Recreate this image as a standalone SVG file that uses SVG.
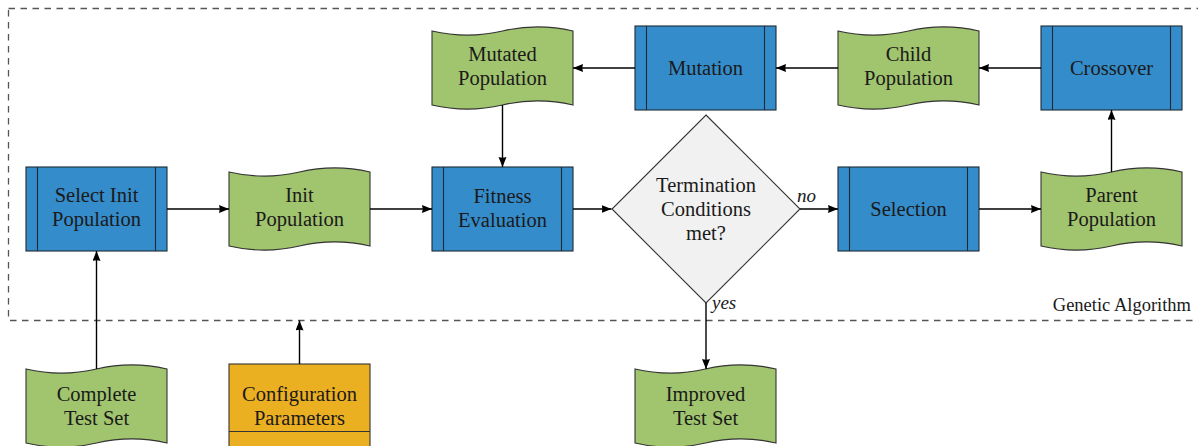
<svg xmlns="http://www.w3.org/2000/svg" width="1198" height="446" viewBox="0 0 1198 446">
<defs>
<style>
.proc{fill:#358cca;stroke:#1e2a33;stroke-width:1.1}
.bar{stroke:#1e2a33;stroke-width:1.1;fill:none}
.tape{fill:#a1c46e;stroke:#333;stroke-width:1.1}
.cfg{fill:#ebaf22;stroke:#333;stroke-width:1.1}
.dec{fill:#f1f1f1;stroke:#333;stroke-width:1.1}
.t{font-size:20.5px;fill:#1a1a1a;text-anchor:middle}
.lbl{font-size:19px;fill:#1a1a1a;font-style:italic}
.grp{font-size:18.5px;fill:#1a1a1a;text-anchor:end}
.conn{stroke:#000;stroke-width:1.4;fill:none;marker-end:url(#arr)}
</style>
<marker id="arr" markerUnits="userSpaceOnUse" markerWidth="11" markerHeight="9" refX="10" refY="4" orient="auto">
<path d="M0,0 L10,4 L0,8 Q1.5,4 0,0 Z" fill="#000"/>
</marker>
</defs>

<g font-family="'Liberation Serif', Tinos, 'Times New Roman', 'DejaVu Serif', serif">
<rect x="8.5" y="8.5" width="1300" height="312" fill="none" stroke="#555" stroke-width="1.3" stroke-dasharray="6.5 5.5"/>
<text class="grp" x="1191" y="311">Genetic Algorithm</text>

<g id="select-init">
<rect class="proc" x="26" y="167" width="141" height="84"/>
<path class="bar" d="M37.5,167 V251 M155.5,167 V251"/>
<text class="t" x="96.5" y="202">Select Init</text>
<text class="t" x="96.5" y="226">Population</text>
</g>

<g id="init-population">
<path class="tape" d="M229,172 C252.5,177.5 276,177.5 299.5,172 C323,166.5 346.5,166.5 370,172 L370,246 C346.5,240.5 323,240.5 299.5,246 C276,251.5 252.5,251.5 229,246 Z"/>
<text class="t" x="299.5" y="202">Init</text>
<text class="t" x="299.5" y="226">Population</text>
</g>

<g id="fitness">
<rect class="proc" x="432" y="167" width="141" height="84"/>
<path class="bar" d="M443.5,167 V251 M561.5,167 V251"/>
<text class="t" x="502.5" y="203">Fitness</text>
<text class="t" x="502.5" y="227">Evaluation</text>
</g>

<g id="termination">
<path class="dec" d="M706,115 L800,209 L706,303 L612,209 Z"/>
<text class="t" x="706" y="192">Termination</text>
<text class="t" x="706" y="216">Conditions</text>
<text class="t" x="706" y="240">met?</text>
</g>

<g id="selection">
<rect class="proc" x="838" y="167" width="141" height="84"/>
<path class="bar" d="M849.5,167 V251 M967.5,167 V251"/>
<text class="t" x="908.5" y="216">Selection</text>
</g>

<g id="parent-population">
<path class="tape" d="M1041,172 C1064.5,177.5 1088,177.5 1111.5,172 C1135,166.5 1158.5,166.5 1182,172 L1182,246 C1158.5,240.5 1135,240.5 1111.5,246 C1088,251.5 1064.5,251.5 1041,246 Z"/>
<text class="t" x="1111.5" y="202">Parent</text>
<text class="t" x="1111.5" y="226">Population</text>
</g>

<g id="crossover">
<rect class="proc" x="1041" y="26" width="141" height="84"/>
<path class="bar" d="M1052.5,26 V110 M1170.5,26 V110"/>
<text class="t" x="1111.5" y="75">Crossover</text>
</g>

<g id="child-population">
<path class="tape" d="M838,31 C861.5,36.5 885,36.5 908.5,31 C932,25.5 955.5,25.5 979,31 L979,105 C955.5,99.5 932,99.5 908.5,105 C885,110.5 861.5,110.5 838,105 Z"/>
<text class="t" x="908.5" y="61">Child</text>
<text class="t" x="908.5" y="85">Population</text>
</g>

<g id="mutation">
<rect class="proc" x="635" y="26" width="141" height="84"/>
<path class="bar" d="M646.5,26 V110 M764.5,26 V110"/>
<text class="t" x="705.5" y="75">Mutation</text>
</g>

<g id="mutated-population">
<path class="tape" d="M432,31 C455.5,36.5 479,36.5 502.5,31 C526,25.5 549.5,25.5 573,31 L573,105 C549.5,99.5 526,99.5 502.5,105 C479,110.5 455.5,110.5 432,105 Z"/>
<text class="t" x="502.5" y="61">Mutated</text>
<text class="t" x="502.5" y="85">Population</text>
</g>

<g id="complete-test-set">
<path class="tape" d="M26,369 C49.5,374.5 73,374.5 96.5,369 C120,363.5 143.5,363.5 167,369 L167,443 C143.5,437.5 120,437.5 96.5,443 C73,448.5 49.5,448.5 26,443 Z"/>
<text class="t" x="96.5" y="401">Complete</text>
<text class="t" x="96.5" y="425">Test Set</text>
</g>

<g id="configuration">
<rect class="cfg" x="229" y="364" width="141" height="100"/>
<path class="bar" d="M229,431.5 H370" style="stroke:#333"/>
<text class="t" x="299.5" y="401">Configuration</text>
<text class="t" x="299.5" y="425">Parameters</text>
</g>

<g id="improved-test-set">
<path class="tape" d="M635,369 C658.5,374.5 682,374.5 705.5,369 C729,363.5 752.5,363.5 776,369 L776,443 C752.5,437.5 729,437.5 705.5,443 C682,448.5 658.5,448.5 635,443 Z"/>
<text class="t" x="705.5" y="401">Improved</text>
<text class="t" x="705.5" y="425">Test Set</text>
</g>

<g id="connectors">
<path class="conn" d="M167,209 H229"/>
<path class="conn" d="M370,209 H432"/>
<path class="conn" d="M573,209 H611.5"/>
<path class="conn" d="M800,209 H838"/>
<path class="conn" d="M979,209 H1041"/>
<path class="conn" d="M1111.5,172 V110"/>
<path class="conn" d="M1041,68 H979"/>
<path class="conn" d="M838,68 H776"/>
<path class="conn" d="M635,68 H573"/>
<path class="conn" d="M502.5,105 V167"/>
<path class="conn" d="M706,303 V369"/>
<path class="conn" d="M96.5,369 V251"/>
<path class="conn" d="M299.5,364 V320.5"/>
<text class="lbl" x="797" y="202">no</text>
<text class="lbl" x="712" y="309">yes</text>
</g>
</g>
</svg>
